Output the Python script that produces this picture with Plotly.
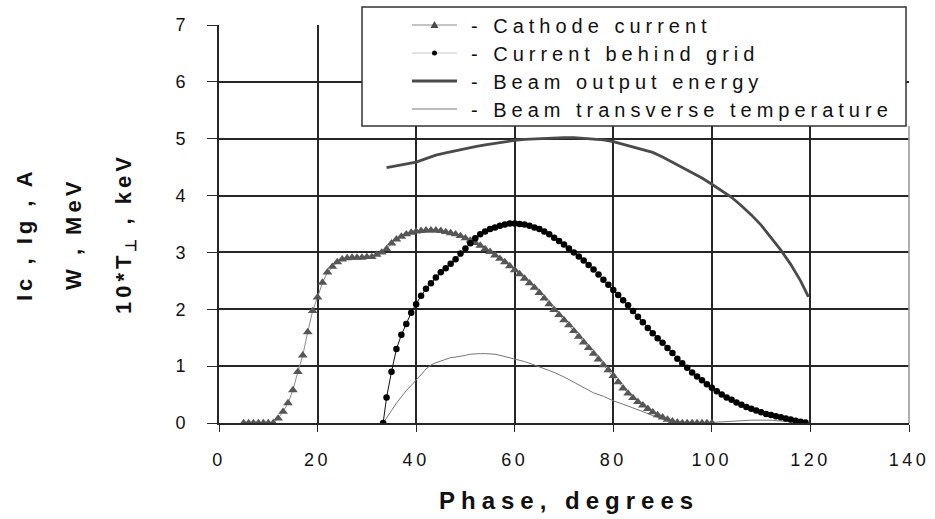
import plotly.graph_objects as go

# ---- data (phase in degrees) ----
cathode_phase = list(range(5, 101))
cathode_current = [0, 0, 0, 0, 0, 0, 0, 0.08, 0.2, 0.35, 0.58, 0.9, 1.19, 1.6, 1.97,
                   2.21, 2.47, 2.65, 2.75, 2.83, 2.88, 2.9, 2.91, 2.91, 2.91, 2.92,
                   2.92, 2.96, 3.0, 3.06, 3.16, 3.23, 3.28, 3.32, 3.35, 3.37, 3.38,
                   3.39, 3.39, 3.39, 3.38, 3.36, 3.34, 3.32, 3.29, 3.25, 3.21, 3.17,
                   3.12, 3.06, 3.01, 2.95, 2.89, 2.83, 2.76, 2.69, 2.62, 2.54, 2.46,
                   2.38, 2.29, 2.19, 2.09, 1.99, 1.9, 1.81, 1.72, 1.62, 1.52, 1.42,
                   1.32, 1.22, 1.12, 1.02, 0.93, 0.83, 0.72, 0.61, 0.52, 0.44, 0.37,
                   0.31, 0.25, 0.19, 0.14, 0.1, 0.06, 0.03, 0.01, 0, 0, 0, 0, 0, 0, 0]

grid_phase = [33.3] + list(range(34, 120))
grid_current = [0, 0.45, 0.9, 1.3, 1.55, 1.74, 1.94, 2.09, 2.24, 2.36, 2.46, 2.56,
                2.65, 2.72, 2.8, 2.88, 2.98, 3.07, 3.16, 3.25, 3.32, 3.37, 3.41,
                3.44, 3.47, 3.49, 3.51, 3.51, 3.5, 3.49, 3.47, 3.44, 3.41, 3.37,
                3.32, 3.26, 3.2, 3.14, 3.07, 3.0, 2.93, 2.86, 2.78, 2.7, 2.61, 2.52,
                2.43, 2.34, 2.25, 2.16, 2.07, 1.97, 1.87, 1.77, 1.67, 1.58, 1.49,
                1.41, 1.32, 1.23, 1.13, 1.05, 0.97, 0.89, 0.82, 0.75, 0.68, 0.62,
                0.56, 0.5, 0.45, 0.41, 0.36, 0.32, 0.28, 0.25, 0.22, 0.19, 0.16,
                0.14, 0.12, 0.1, 0.08, 0.06, 0.04, 0.02, 0.01]

energy_phase = [34, 36, 38, 40, 42, 44, 46, 48, 50, 52, 54, 56, 58, 60, 62, 64, 66,
                68, 70, 72, 74, 76, 78, 80, 82, 84, 86, 88, 90, 92, 94, 96, 98, 100,
                102, 104, 106, 108, 110, 112, 114, 116, 118, 119.6]
energy = [4.49, 4.52, 4.55, 4.59, 4.65, 4.71, 4.75, 4.79, 4.82, 4.86, 4.89, 4.92,
          4.95, 4.97, 4.99, 5.0, 5.01, 5.02, 5.02, 5.02, 5.01, 5.0, 4.98, 4.95, 4.9,
          4.85, 4.8, 4.76, 4.68, 4.59, 4.5, 4.41, 4.31, 4.2, 4.09, 3.97, 3.82, 3.66,
          3.48, 3.27, 3.04, 2.79, 2.5, 2.22]

temp_phase = [33.3, 34, 35, 36, 37, 38, 39, 40, 41, 42, 43, 44, 45, 46, 47, 48, 49,
              50, 51, 52, 53, 54, 55, 56, 57, 58, 59, 60, 62, 64, 66, 68, 70, 72, 74,
              76, 78, 80, 82, 84, 86, 88, 90, 92, 94, 96, 100, 104, 108, 112, 116, 119]
temperature = [0, 0.1, 0.22, 0.35, 0.47, 0.57, 0.66, 0.75, 0.85, 0.95, 1.02, 1.06,
               1.09, 1.13, 1.15, 1.16, 1.17, 1.19, 1.21, 1.22, 1.22, 1.22, 1.22,
               1.21, 1.19, 1.17, 1.15, 1.13, 1.08, 1.02, 0.96, 0.89, 0.81, 0.72,
               0.62, 0.53, 0.47, 0.39, 0.33, 0.27, 0.2, 0.13, 0.07, 0.03, 0.01, 0.0,
               0.01, 0.03, 0.05, 0.05, 0.02, 0.0]

legend_labels = ["- Cathode current", "- Current behind grid",
                 "- Beam output energy", "- Beam transverse temperature"]
x_ticks = [0, 20, 40, 60, 80, 100, 120, 140]
y_ticks = [0, 1, 2, 3, 4, 5, 6, 7]

FONT = "Liberation Sans, Arial, sans-serif"
W, H = 935, 519
L, R, T, B = 219, 909, 25, 423  # plot area in pixels
GRID = "#262626"


def px(x):
    return (x - L) / (R - L)


def py(y):
    return (B - y) / (B - T)


fig = go.Figure()

fig.add_trace(go.Scatter(x=energy_phase, y=energy, mode="lines",
                         line=dict(color="#4a4a4a", width=2.8), showlegend=False))
fig.add_trace(go.Scatter(x=temp_phase, y=temperature, mode="lines",
                         line=dict(color="#767676", width=1), showlegend=False))
fig.add_trace(go.Scatter(x=cathode_phase, y=cathode_current, mode="lines+markers",
                         line=dict(color="#8a8a8a", width=1),
                         marker=dict(symbol="triangle-up", size=8.5, color="#565656"),
                         showlegend=False))
fig.add_trace(go.Scatter(x=grid_phase, y=grid_current, mode="lines+markers",
                         line=dict(color="#111111", width=1),
                         marker=dict(symbol="circle", size=6.5, color="#000000"),
                         showlegend=False))

# legend: white box over the grid, sample lines, sample markers
shapes = [dict(type="line", xref="paper", yref="paper", x0=1, x1=1, y0=0, y1=py(126),
               line=dict(color="#9a9a9a", width=1.6), layer="above"),
          dict(type="rect", xref="paper", yref="paper", x0=px(362), x1=px(906),
               y0=py(126), y1=py(7), fillcolor="white",
               line=dict(color="#333333", width=1.5), layer="above")]
rows = [25, 53, 81, 109]
sample_styles = [dict(color="#8a8a8a", width=1), dict(color="#c8c8c8", width=1.2),
                 dict(color="#4a4a4a", width=2.8), dict(color="#767676", width=1)]
for r, st in zip(rows, sample_styles):
    shapes.append(dict(type="line", xref="paper", yref="paper", x0=px(412), x1=px(457),
                       y0=py(r), y1=py(r), line=st, layer="above"))
# triangle marker sample
shapes.append(dict(type="path", xref="paper", yref="paper",
                   xsizemode="pixel", ysizemode="pixel",
                   xanchor=px(434.5), yanchor=py(rows[0]),
                   path="M -4,-3 L 4,-3 L 0,4 Z", fillcolor="#4a4a4a",
                   line=dict(width=0), layer="above"))
# dot marker sample
shapes.append(dict(type="circle", xref="paper", yref="paper",
                   xsizemode="pixel", ysizemode="pixel",
                   xanchor=px(434.5), yanchor=py(rows[1]),
                   x0=-2.5, x1=2.5, y0=-2.5, y1=2.5, fillcolor="#000000",
                   line=dict(width=0), layer="above"))

annotations = []
for r, lab in zip(rows, legend_labels):
    annotations.append(dict(xref="paper", yref="paper", x=px(469), y=py(r + 1),
                            xanchor="left", yanchor="middle", align="left", text=lab,
                            showarrow=False, font=dict(family=FONT, size=20, color="#111")))

# y axis title, three rotated lines
for xpix, txt in [(24, "<b>Ic , Ig , A</b>"), (73, "<b>W , MeV</b>"),
                  (125, "<b>10*T<sub>⊥</sub> , keV</b>")]:
    annotations.append(dict(xref="paper", yref="paper", x=px(xpix), y=py(234),
                            xanchor="center", yanchor="middle", textangle=-90, text=txt,
                            showarrow=False, font=dict(family=FONT, size=22, color="#111")))

annotations.append(dict(xref="paper", yref="paper", x=px(569), y=py(500),
                        xanchor="center", yanchor="middle", text="<b>Phase, degrees</b>",
                        showarrow=False, font=dict(family=FONT, size=24, color="#111")))

fig.update_layout(
    width=W, height=H,
    margin=dict(l=L, r=W - R, t=T, b=H - B, pad=0),
    paper_bgcolor="white", plot_bgcolor="white",
    font=dict(family=FONT, size=17, color="#111"),
    xaxis=dict(range=[0, 140], tickvals=x_ticks, ticktext=[str(v) for v in x_ticks],
               showgrid=True, gridcolor=GRID, gridwidth=1.7,
               showline=True, linecolor=GRID, linewidth=1.7,
               ticks="outside", ticklen=7, tickcolor=GRID, tickwidth=1.3,
               ticklabelstandoff=13, zeroline=False,
               tickfont=dict(family=FONT, size=18, color="#111")),
    yaxis=dict(range=[0, 7], tickvals=y_ticks, ticktext=[str(v) for v in y_ticks],
               showgrid=True, gridcolor=GRID, gridwidth=1.7,
               showline=True, linecolor=GRID, linewidth=1.7,
               ticks="outside", ticklen=10, tickcolor=GRID, tickwidth=1.3,
               ticklabelstandoff=18, zeroline=False,
               tickfont=dict(family=FONT, size=18, color="#111")),
    shapes=shapes, annotations=annotations,
)

# widen character spacing of the text labels
post = """
var gd = document.getElementById('{plot_id}');
var sp = {0: 5, 1: 5, 2: 5, 3: 5, 4: 4, 5: 4, 6: 4, 7: 6};
function spacing() {
  gd.querySelectorAll('.annotation').forEach(function (a) {
    var i = a.getAttribute('data-index');
    if (sp[i] !== undefined) {
      a.querySelectorAll('text').forEach(function (t) { t.style.letterSpacing = sp[i] + 'px'; });
    }
  });
  gd.querySelectorAll('.xtick text').forEach(function (t) { t.style.letterSpacing = '3.5px'; });
}
spacing();
gd.on('plotly_afterplot', spacing);
"""

fig.write_html("out.html", post_script=post)
